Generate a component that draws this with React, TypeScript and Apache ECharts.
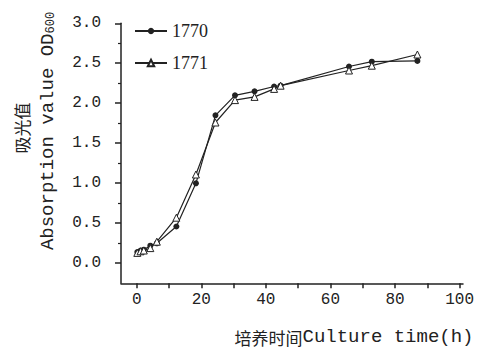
import React, { useEffect, useRef } from "react";
import * as echarts from "echarts";

const time = [0, 1, 2, 4, 6, 12, 18, 24, 30, 36, 42, 44, 65, 72, 86];
const od1770 = [0.14, 0.16, 0.17, 0.22, 0.25, 0.46, 1.0, 1.85, 2.1, 2.15, 2.21, 2.22, 2.46, 2.52, 2.53];
const od1771 = [0.13, 0.15, 0.16, 0.19, 0.27, 0.57, 1.11, 1.76, 2.04, 2.08, 2.18, 2.22, 2.41, 2.47, 2.61];
const seriesNames = ["1770", "1771"];
const yTitleCn = "吸光值";
const yTitleEn = "Absorption value OD";
const yTitleSub = "600";
const xTitleCn = "培养时间";
const xTitleEn = "Culture time(h)";

const INK = "#222";
const MONO = "'Liberation Mono', 'DejaVu Sans Mono', monospace";
const CJK = "'Noto Sans CJK SC', sans-serif";

export default function App() {
  const ref = useRef<HTMLDivElement>(null);
  useEffect(() => {
    if (!ref.current) return;
    const chart = echarts.init(ref.current, undefined, { renderer: "svg" });
    const pairs = (ys: number[]) => time.map((t, i) => [t, ys[i]]);
    const option: any = {
      animation: false,
      backgroundColor: "#fff",
      grid: [
        { left: 121, right: 14, top: 23.3, bottom: 65.7 },
        { left: 136.7, right: 14.3, top: 23.3, bottom: 65.7 },
        { left: 121, right: 14, top: 23.3, bottom: 86.3 },
      ],
      xAxis: [
        {
          gridIndex: 0, type: "value", min: -5, max: 100,
          axisLine: { show: true, onZero: false, lineStyle: { color: INK, width: 1.5 } },
          axisTick: { show: false }, axisLabel: { show: false }, splitLine: { show: false },
        },
        {
          gridIndex: 1, type: "value", min: 0, max: 100, interval: 10,
          axisLine: { show: false, onZero: false },
          axisTick: { show: true, length: 5, lineStyle: { color: INK, width: 1.5 } },
          axisLabel: {
            show: true, margin: 9, color: INK, fontFamily: MONO, fontSize: 16,
            formatter: (v: number) => (v % 20 === 0 ? String(v) : ""),
          },
          splitLine: { show: false },
        },
        { gridIndex: 2, type: "value", min: 0, max: 100, show: false },
      ],
      yAxis: [
        {
          gridIndex: 0, type: "value", min: -0.25, max: 3,
          axisLine: { show: true, onZero: false, lineStyle: { color: INK, width: 1.5 } },
          axisTick: { show: false }, axisLabel: { show: false }, splitLine: { show: false },
        },
        { gridIndex: 1, type: "value", min: 0, max: 3, show: false },
        {
          gridIndex: 2, type: "value", min: 0, max: 3, interval: 0.5,
          axisLine: { show: false, onZero: false },
          axisTick: { show: true, length: 6, lineStyle: { color: INK, width: 1.5 } },
          minorTick: { show: true, splitNumber: 2, length: 3, lineStyle: { color: INK, width: 1.2 } },
          axisLabel: {
            show: true, margin: 20, color: INK, fontFamily: MONO, fontSize: 16,
            formatter: (v: number) => v.toFixed(1),
          },
          splitLine: { show: false }, minorSplitLine: { show: false },
        },
      ],
      legend: {
        data: seriesNames,
        orient: "vertical",
        left: 134,
        top: 22,
        padding: 0,
        itemWidth: 32,
        itemHeight: 8,
        itemGap: 14,
        textStyle: { fontFamily: "'Liberation Serif', serif", fontSize: 18, color: INK },
      },
      series: [
        {
          name: seriesNames[0], type: "line", xAxisIndex: 0, yAxisIndex: 0,
          data: pairs(od1770), symbol: "circle", symbolSize: 6, showAllSymbol: true,
          itemStyle: { color: INK },
          lineStyle: { color: INK, width: 1.2 },
          z: 3,
        },
        {
          name: seriesNames[1], type: "line", xAxisIndex: 0, yAxisIndex: 0,
          data: pairs(od1771), symbol: "triangle", symbolSize: 7, showAllSymbol: true,
          itemStyle: { color: "#fff", borderColor: INK, borderWidth: 1 },
          lineStyle: { color: INK, width: 1.2 },
          z: 4,
        },
      ],
      graphic: [
        {
          type: "text", x: 21, y: 128, rotation: Math.PI / 2,
          style: {
            text: yTitleCn, font: `17px ${CJK}`, fill: INK,
            textAlign: "center", textVerticalAlign: "middle", align: "center", verticalAlign: "middle",
          },
        },
        {
          type: "text", x: 47, y: 131, rotation: Math.PI / 2,
          style: {
            text: `{en|${yTitleEn}}{sub|${yTitleSub}}`,
            rich: {
              en: { fontFamily: MONO, fontSize: 19, fill: INK, color: INK, lineHeight: 20, verticalAlign: "bottom" },
              sub: { fontFamily: MONO, fontSize: 12, fill: INK, color: INK, lineHeight: 20, verticalAlign: "bottom" },
            },
            fill: INK,
            textAlign: "center", textVerticalAlign: "middle", align: "center", verticalAlign: "middle",
          },
        },
        {
          type: "text", x: 354, y: 337,
          style: {
            text: `{cn|${xTitleCn}}{en|${xTitleEn}}`,
            rich: {
              cn: { fontFamily: CJK, fontSize: 17, fill: INK, color: INK },
              en: { fontFamily: MONO, fontSize: 19, fill: INK, color: INK },
            },
            fill: INK,
            textAlign: "center", textVerticalAlign: "middle", align: "center", verticalAlign: "middle",
          },
        },
      ],
    };
    chart.setOption(option);
    return () => chart.dispose();
  }, []);
  return (
    <div
      ref={ref}
      style={{ position: "fixed", left: 0, top: 0, width: 477, height: 349, background: "#fff" }}
    />
  );
}
